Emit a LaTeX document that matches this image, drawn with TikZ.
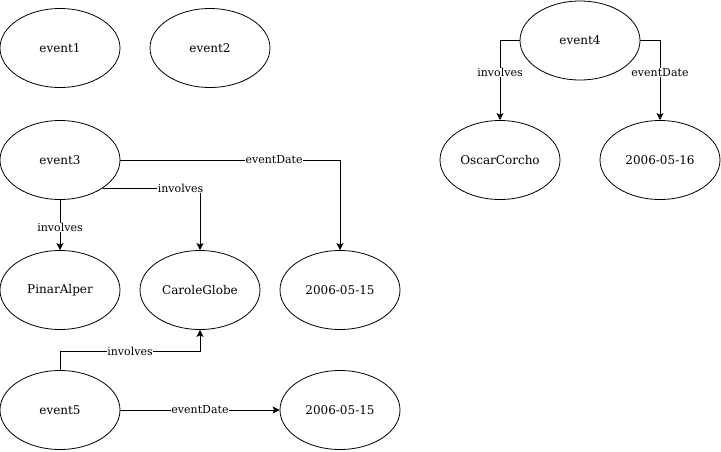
\documentclass[tikz,border=0pt]{standalone}
\usepackage{fontspec}
\setmainfont{DejaVu Serif}
\usetikzlibrary{shapes.geometric,arrows.meta}
\tikzset{
  ent/.style={draw, ellipse, minimum width=120pt, minimum height=79pt, inner sep=0pt, line width=0.8pt, font=\fontsize{12pt}{14pt}\selectfont},
  rel/.style={draw, line width=0.9pt, -{Stealth[length=7pt,width=7pt,inset=1.5pt]}},
  lab/.style={fill=white, inner sep=0.5pt, font=\fontsize{11pt}{13pt}\selectfont}
}
\begin{document}
\begin{tikzpicture}[x=1pt,y=-1pt]
\useasboundingbox (0,0) rectangle (721,451);
\node[ent] (e1) at (60,48) {event1};
\node[ent] (e2) at (210,48) {event2};
\node[ent] (e4) at (580,40.5) {event4};
\node[ent] (oc) at (500,160) {OscarCorcho};
\node[ent] (d16) at (660,160) {2006-05-16};
\node[ent] (e3) at (60,160) {event3};
\node[ent] (pa) at (60,290) {PinarAlper};
\node[ent] (cg) at (200,290) {CaroleGlobe};
\node[ent] (d15a) at (340,290) {2006-05-15};
\node[ent] (e5) at (60,410) {event5};
\node[ent] (d15b) at (340,410) {2006-05-15};
\coordinate (c5) at (60,351);
% event3
\draw[rel] (e3.east) -| node[lab, pos=0.35] {eventDate} (d15a.north);
\draw[rel] (e3.south east) -| node[lab, pos=0.4] {involves} (cg.north);
\draw[rel] (e3.south) -- node[lab, pos=0.55] {involves} (pa.north);
% event5
\draw[rel] (e5.north) -- (c5) -| node[lab, pos=0.25] {involves} (cg.south);
\draw[rel] (e5.east) -- node[lab] {eventDate} (d15b.west);
% event4
\draw[rel] (e4.west) -| node[lab, pos=0.7] {involves} (oc.north);
\draw[rel] (e4.east) -| node[lab, pos=0.7] {eventDate} (d16.north);
\end{tikzpicture}
\end{document}
